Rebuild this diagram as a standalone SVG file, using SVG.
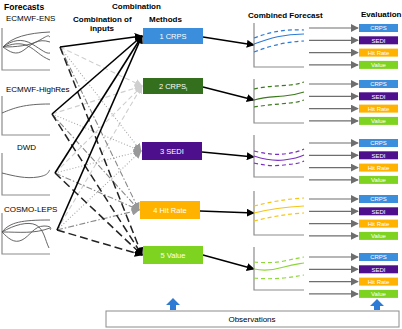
<svg xmlns="http://www.w3.org/2000/svg" width="402" height="329" viewBox="0 0 402 329">
<style>
text{font-family:"Liberation Sans",Arial,sans-serif;}
.h{font-size:8px;font-weight:bold;fill:#000;}
.l{font-size:8px;fill:#000;}
.bt{font-size:7.5px;fill:#fff;text-anchor:middle;}
.et{font-size:6px;fill:#fff;text-anchor:middle;}
.ax{fill:none;stroke:#8c8c8c;stroke-width:1.2;}
.fc{fill:none;stroke:#555;stroke-width:0.9;}
.c1{fill:none;stroke:#000;stroke-width:1.6;marker-end:url(#mb);}
.c2{fill:none;stroke:#cfcfcf;stroke-width:1.1;stroke-dasharray:5,3;marker-end:url(#ml);}
.c3{fill:none;stroke:#a8a8a8;stroke-width:1.1;stroke-dasharray:1,2;marker-end:url(#mg);}
.c4{fill:none;stroke:#8a8a8a;stroke-width:1.1;stroke-dasharray:6,2,1.5,2;marker-end:url(#mg);}
.c5{fill:none;stroke:#222;stroke-width:1.5;stroke-dasharray:8,4;marker-end:url(#mb);}
.out{fill:none;stroke:#000;stroke-width:1.3;marker-end:url(#mb);}
.ev{fill:none;stroke:#6e6e6e;stroke-width:1.2;marker-end:url(#me);}
.sol{fill:none;stroke-width:1.2;}
.dsh{fill:none;stroke-width:1.2;stroke-dasharray:4,3;}
</style>
<defs>
<marker id="mb" viewBox="0 0 10 10" refX="9" refY="5" markerWidth="8" markerHeight="8" markerUnits="userSpaceOnUse" orient="auto"><path d="M0,0 L10,5 L0,10 z" fill="#000"/></marker>
<marker id="ml" viewBox="0 0 10 10" refX="9" refY="5" markerWidth="8" markerHeight="8" markerUnits="userSpaceOnUse" orient="auto"><path d="M0,0 L10,5 L0,10 z" fill="#cfcfcf"/></marker>
<marker id="mg" viewBox="0 0 10 10" refX="9" refY="5" markerWidth="8" markerHeight="8" markerUnits="userSpaceOnUse" orient="auto"><path d="M0,0 L10,5 L0,10 z" fill="#999"/></marker>
<marker id="me" viewBox="0 0 10 10" refX="9" refY="5" markerWidth="8" markerHeight="8" markerUnits="userSpaceOnUse" orient="auto"><path d="M0,0 L10,5 L0,10 z" fill="#6e6e6e"/></marker>
</defs>

<!-- headers -->
<text class="h" x="4" y="10" style="font-size:8.5px">Forecasts</text>
<text class="h" x="112" y="9">Combination</text>
<text class="h" x="73" y="22">Combination of</text>
<text class="h" x="90" y="31">inputs</text>
<text class="h" x="149" y="22">Methods</text>
<text class="h" x="248" y="18">Combined Forecast</text>
<text class="h" x="361" y="17">Evaluation</text>

<!-- forecast inputs -->
<g id="ecmwf-ens">
<text class="l" x="6" y="21">ECMWF-ENS</text>
<path class="ax" d="M2,28 V70 H50"/>
<path class="fc" d="M3,47 C12,37 28,33 50,32"/>
<path class="fc" d="M3,47 C12,40 22,38 32,44 S46,54 50,53"/>
<path class="fc" d="M3,47 C10,52 16,56 24,50 S38,38 50,42"/>
<path class="fc" d="M3,47 C12,44 20,42 28,46 S40,56 50,60"/>
<path class="fc" d="M3,47 C15,47 30,46 40,40 S48,36 50,37"/>
</g>
<g id="ecmwf-highres">
<text class="l" x="6" y="92">ECMWF-HighRes</text>
<path class="ax" d="M2,96 V135 H50"/>
<path class="fc" d="M2,113 C14,108 24,104 50,104"/>
</g>
<g id="dwd">
<text class="l" x="17" y="150">DWD</text>
<path class="ax" d="M2,153 V195 H50"/>
<path class="fc" d="M2,173 C14,176 26,179 38,177 S48,171 50,170"/>
</g>
<g id="cosmo-leps">
<text class="l" x="4" y="212">COSMO-LEPS</text>
<path class="ax" d="M2,213 V254 H50"/>
<path class="fc" d="M2,232 C10,222 22,220 50,220"/>
<path class="fc" d="M2,232 C14,225 28,221 36,225 S45,240 49,248"/>
<path class="fc" d="M2,232 C8,238 14,244 22,240 S34,226 44,226 S50,230 50,230"/>
<path class="fc" d="M2,232 C20,232 34,234 50,228"/>
</g>

<!-- connectors -->
<g id="connectors">
<line class="c2" x1="60" y1="47" x2="142" y2="86"/>
<line class="c2" x1="52" y1="114" x2="142" y2="86"/>
<line class="c2" x1="55" y1="173" x2="142" y2="86"/>
<line class="c2" x1="57" y1="230" x2="142" y2="86"/>
<line class="c3" x1="60" y1="47" x2="141" y2="151"/>
<line class="c3" x1="52" y1="114" x2="141" y2="151"/>
<line class="c3" x1="55" y1="173" x2="141" y2="151"/>
<line class="c3" x1="57" y1="230" x2="141" y2="151"/>
<line class="c4" x1="60" y1="47" x2="139" y2="210"/>
<line class="c4" x1="52" y1="114" x2="139" y2="210"/>
<line class="c4" x1="55" y1="173" x2="139" y2="210"/>
<line class="c4" x1="57" y1="230" x2="139" y2="210"/>
<line class="c5" x1="60" y1="47" x2="142" y2="255"/>
<line class="c5" x1="52" y1="114" x2="142" y2="255"/>
<line class="c5" x1="55" y1="173" x2="142" y2="255"/>
<line class="c5" x1="57" y1="230" x2="142" y2="255"/>
<line class="c1" x1="60" y1="47" x2="142" y2="36"/>
<line class="c1" x1="52" y1="114" x2="142" y2="36"/>
<line class="c1" x1="55" y1="173" x2="142" y2="36"/>
<line class="c1" x1="57" y1="230" x2="142" y2="36"/>
<line class="out" x1="203" y1="37" x2="254" y2="45"/>
<line class="out" x1="203" y1="87" x2="254" y2="100"/>
<line class="out" x1="202" y1="152" x2="254" y2="157"/>
<line class="out" x1="200" y1="211" x2="254" y2="213"/>
<line class="out" x1="203" y1="255" x2="254" y2="269"/>
</g>

<!-- methods -->
<g id="m1"><rect x="143" y="28" width="60" height="16" fill="#3a8edb"/><text class="bt" x="173" y="39">1 CRPS</text></g>
<g id="m2"><rect x="143" y="78" width="60" height="16" fill="#336f1c"/><text class="bt" x="173" y="89">2 CRPS<tspan font-size="5" dy="2">i</tspan></text></g>
<g id="m3"><rect x="142" y="142" width="60" height="18" fill="#4d0f8c"/><text class="bt" x="172" y="154">3 SEDI</text></g>
<g id="m4"><rect x="140" y="201" width="60" height="18" fill="#ffb300"/><text class="bt" x="170" y="213">4 Hit Rate</text></g>
<g id="m5"><rect x="143" y="246" width="60" height="18" fill="#7ed321"/><text class="bt" x="173" y="258">5 Value</text></g>

<!-- combined forecasts -->
<g id="cf1">
<path class="ax" d="M254,23 V67 H304"/>
<path class="sol" stroke="#2e7bd6" d="M254,44 C270,38 284,34 304,34"/>
<path class="dsh" stroke="#2e7bd6" d="M254,38 C270,32 284,29 304,30"/>
<path class="dsh" stroke="#2e7bd6" d="M254,52 C270,46 284,42 304,41"/>
</g>
<g id="cf2">
<path class="ax" d="M254,79 V123 H304"/>
<path class="sol" stroke="#3d7a1e" d="M254,100 C266,96 274,97 284,96 S298,94 304,92"/>
<path class="dsh" stroke="#3d7a1e" d="M254,89 C266,86 280,86 290,85 S300,83 304,82"/>
<path class="dsh" stroke="#3d7a1e" d="M254,107 C266,105 280,104 290,103 S300,101 304,100"/>
</g>
<g id="cf3">
<path class="ax" d="M254,135 V177 H304"/>
<path class="sol" stroke="#7b2fbe" d="M254,156 C266,160 276,161 284,160 S298,158 304,155"/>
<path class="dsh" stroke="#7b2fbe" d="M254,151 C266,154 276,155 284,154 S298,152 304,149"/>
<path class="dsh" stroke="#7b2fbe" d="M254,163 C266,166 276,166 284,165 S298,164 304,161"/>
</g>
<g id="cf4">
<path class="ax" d="M254,191 V235 H304"/>
<path class="sol" stroke="#f5c518" d="M254,213 C270,209 286,207 304,206"/>
<path class="dsh" stroke="#f5c518" d="M254,206 C270,202 286,199 304,198"/>
<path class="dsh" stroke="#f5c518" d="M254,221 C270,217 286,214 304,213"/>
</g>
<g id="cf5">
<path class="ax" d="M254,247 V290 H304"/>
<path class="sol" stroke="#8ed63a" d="M254,269 C264,271 274,270 284,267 S298,264 304,263"/>
<path class="dsh" stroke="#8ed63a" d="M254,262 C264,263 274,263 284,261 S298,258 304,257"/>
<path class="dsh" stroke="#8ed63a" d="M254,278 C264,279 274,279 284,278 S298,276 304,275"/>
</g>

<!-- evaluation -->
<g id="ev1">
<line class="ev" x1="309" y1="28" x2="358" y2="28"/><rect x="359" y="24" width="39" height="8" fill="#3a8edb"/><text class="et" x="378.5" y="30.2">CRPS</text>
<line class="ev" x1="309" y1="40.3" x2="358" y2="40.3"/><rect x="359" y="36.3" width="39" height="8" fill="#4d0f8c"/><text class="et" x="378.5" y="42.5">SEDI</text>
<line class="ev" x1="309" y1="52.6" x2="358" y2="52.6"/><rect x="359" y="48.6" width="39" height="8" fill="#ffb300"/><text class="et" x="378.5" y="54.8">Hit Rate</text>
<line class="ev" x1="309" y1="64.9" x2="358" y2="64.9"/><rect x="359" y="60.9" width="39" height="8" fill="#7ed321"/><text class="et" x="378.5" y="67.1">Value</text>
</g>
<g id="ev2">
<line class="ev" x1="309" y1="84" x2="358" y2="84"/><rect x="359" y="80" width="39" height="8" fill="#3a8edb"/><text class="et" x="378.5" y="86.2">CRPS</text>
<line class="ev" x1="309" y1="96.3" x2="358" y2="96.3"/><rect x="359" y="92.3" width="39" height="8" fill="#4d0f8c"/><text class="et" x="378.5" y="98.5">SEDI</text>
<line class="ev" x1="309" y1="108.6" x2="358" y2="108.6"/><rect x="359" y="104.6" width="39" height="8" fill="#ffb300"/><text class="et" x="378.5" y="110.8">Hit Rate</text>
<line class="ev" x1="309" y1="120.9" x2="358" y2="120.9"/><rect x="359" y="116.9" width="39" height="8" fill="#7ed321"/><text class="et" x="378.5" y="123.1">Value</text>
</g>
<g id="ev3">
<line class="ev" x1="309" y1="143" x2="358" y2="143"/><rect x="359" y="139" width="39" height="8" fill="#3a8edb"/><text class="et" x="378.5" y="145.2">CRPS</text>
<line class="ev" x1="309" y1="155.3" x2="358" y2="155.3"/><rect x="359" y="151.3" width="39" height="8" fill="#4d0f8c"/><text class="et" x="378.5" y="157.5">SEDI</text>
<line class="ev" x1="309" y1="167.6" x2="358" y2="167.6"/><rect x="359" y="163.6" width="39" height="8" fill="#ffb300"/><text class="et" x="378.5" y="169.8">Hit Rate</text>
<line class="ev" x1="309" y1="179.9" x2="358" y2="179.9"/><rect x="359" y="175.9" width="39" height="8" fill="#7ed321"/><text class="et" x="378.5" y="182.1">Value</text>
</g>
<g id="ev4">
<line class="ev" x1="309" y1="199" x2="358" y2="199"/><rect x="359" y="195" width="39" height="8" fill="#3a8edb"/><text class="et" x="378.5" y="201.2">CRPS</text>
<line class="ev" x1="309" y1="211.3" x2="358" y2="211.3"/><rect x="359" y="207.3" width="39" height="8" fill="#4d0f8c"/><text class="et" x="378.5" y="213.5">SEDI</text>
<line class="ev" x1="309" y1="223.6" x2="358" y2="223.6"/><rect x="359" y="219.6" width="39" height="8" fill="#ffb300"/><text class="et" x="378.5" y="225.8">Hit Rate</text>
<line class="ev" x1="309" y1="235.9" x2="358" y2="235.9"/><rect x="359" y="231.9" width="39" height="8" fill="#7ed321"/><text class="et" x="378.5" y="238.1">Value</text>
</g>
<g id="ev5">
<line class="ev" x1="309" y1="257" x2="358" y2="257"/><rect x="359" y="253" width="39" height="8" fill="#3a8edb"/><text class="et" x="378.5" y="259.2">CRPS</text>
<line class="ev" x1="309" y1="269.3" x2="358" y2="269.3"/><rect x="359" y="265.3" width="39" height="8" fill="#4d0f8c"/><text class="et" x="378.5" y="271.5">SEDI</text>
<line class="ev" x1="309" y1="281.6" x2="358" y2="281.6"/><rect x="359" y="277.6" width="39" height="8" fill="#ffb300"/><text class="et" x="378.5" y="283.8">Hit Rate</text>
<line class="ev" x1="309" y1="293.9" x2="358" y2="293.9"/><rect x="359" y="289.9" width="39" height="8" fill="#7ed321"/><text class="et" x="378.5" y="296.1">Value</text>
</g>

<!-- observations -->
<g id="observations">
<rect x="106" y="311" width="293" height="16" fill="#fff" stroke="#8c8c8c" stroke-width="1"/>
<text class="l" x="252" y="322" text-anchor="middle">Observations</text>
<path d="M166,305 L173,298 L180,305 L176,305 L176,310 L170,310 L170,305 z" fill="#2e7bd6"/>
<path d="M370,306 L377,299 L384,306 L380,306 L380,310 L374,310 L374,306 z" fill="#2e7bd6"/>
</g>
</svg>
